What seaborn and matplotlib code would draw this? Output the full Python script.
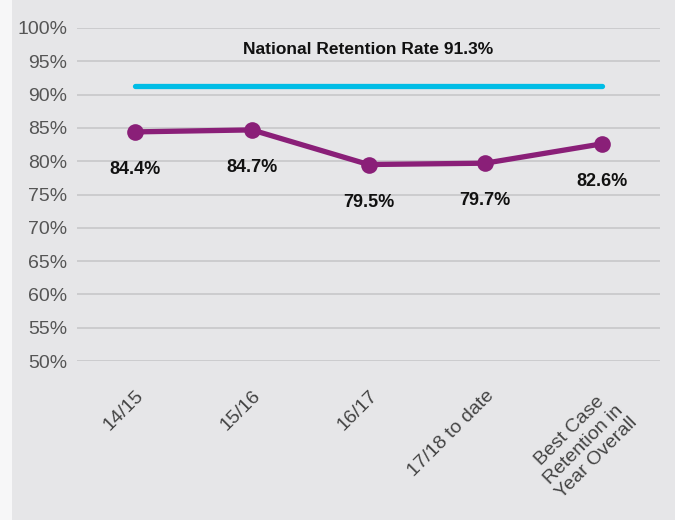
import matplotlib
matplotlib.use("Agg")
import matplotlib.pyplot as plt
import matplotlib.transforms as mtransforms
import seaborn as sns
import pandas as pd

# data
categories = ["14/15", "15/16", "16/17", "17/18 to date", "Best Case\nRetention in\nYear Overall"]
retention = [84.4, 84.7, 79.5, 79.7, 82.6]
value_labels = ["84.4%", "84.7%", "79.5%", "79.7%", "82.6%"]
national_rate = 91.3
national_label = "National Retention Rate 91.3%"
y_ticks = [50, 55, 60, 65, 70, 75, 80, 85, 90, 95, 100]

bg = "#e6e6e8"
purple = "#8a1f78"
cyan = "#00bde6"

sns.set_theme(style="white")
plt.rcParams["font.family"] = ["Liberation Sans", "DejaVu Sans"]

fig = plt.figure(figsize=(6.75, 5.2), dpi=100, facecolor=bg)
# light strip on the left edge
fig.patches.append(plt.Rectangle((0, 0), 12 / 675, 1, transform=fig.transFigure,
                                 facecolor="#f7f7f8", edgecolor="none", zorder=-1))
ax = fig.add_axes([77 / 675, 1 - 361 / 520, (660 - 77) / 675, (361 - 28) / 520])
ax.set_facecolor(bg)

df = pd.DataFrame({"period": categories, "rate": retention})
df["pos"] = range(len(df))

# national line
ax.plot([0, len(categories) - 1], [national_rate, national_rate], color=cyan,
        lw=3.8, solid_capstyle="round", zorder=3)
ax.text((len(categories) - 1) / 2, 96.7, national_label, ha="center", va="center",
        fontsize=12.5, fontweight="bold", color="#111111")

sns.lineplot(data=df, x="pos", y="rate", ax=ax, color=purple, lw=3.8,
             marker="o", markersize=12, markeredgewidth=0, zorder=4)

for i, (v, lab) in enumerate(zip(retention, value_labels)):
    ax.annotate(lab, (i, v), xytext=(0, -27), textcoords="offset points",
                ha="center", va="center", fontsize=13, fontweight="bold", color="#111111")

ax.set_xlim(-0.5, len(categories) - 0.5)
ax.set_ylim(50, 100)
ax.set_yticks(y_ticks)
ax.set_yticklabels([f"{t}%" for t in y_ticks], fontsize=14, color="#555555")
ax.set_xticks(range(len(categories)))
ax.set_xticklabels(categories, fontsize=14, color="#444444", rotation=45,
                   ha="right", va="top", rotation_mode="anchor",
                   multialignment="center", linespacing=1.15)
offset = mtransforms.ScaledTranslation(12 / 100, 0, fig.dpi_scale_trans)
for lbl in ax.get_xticklabels():
    lbl.set_transform(lbl.get_transform() + offset)
ax.tick_params(axis="both", length=0)
ax.tick_params(axis="y", pad=7)
ax.tick_params(axis="x", pad=19)
ax.grid(axis="y", color="#c5c5c7", lw=1.1)
ax.grid(axis="x", visible=False)
ax.set_xlabel("")
ax.set_ylabel("")
for s in ax.spines.values():
    s.set_visible(False)

fig.savefig("out.png", dpi=100, facecolor=bg)
